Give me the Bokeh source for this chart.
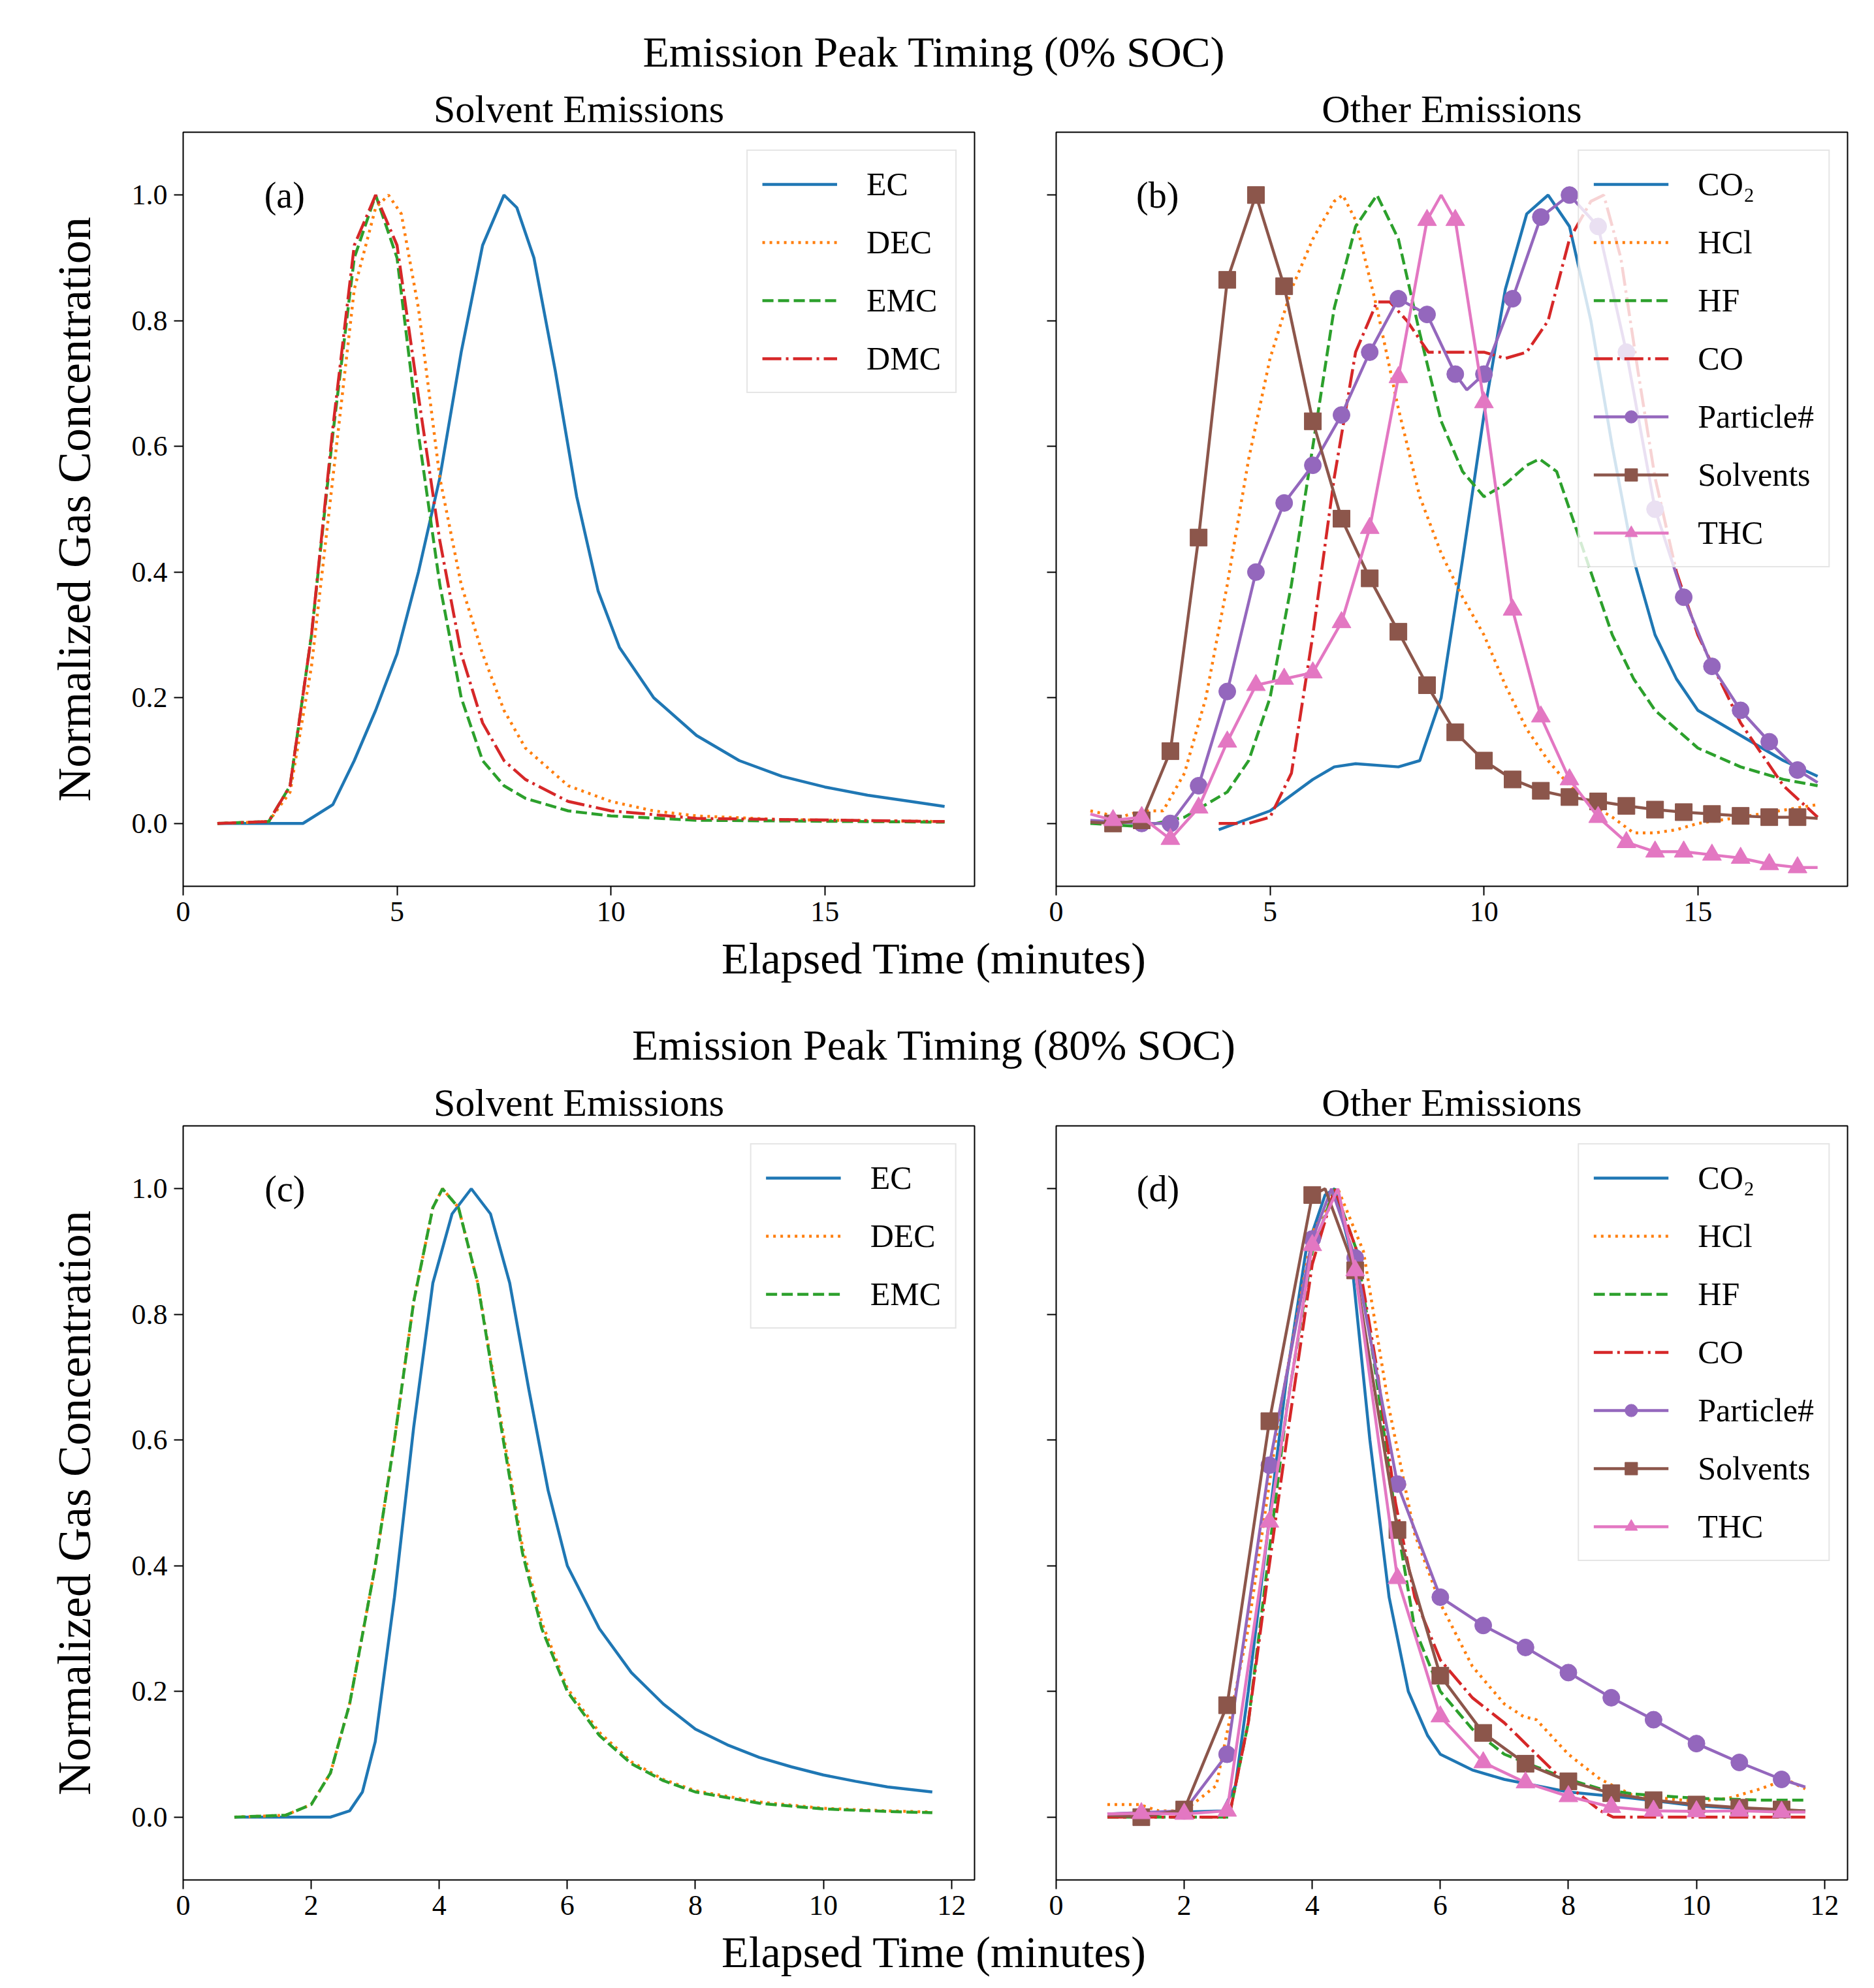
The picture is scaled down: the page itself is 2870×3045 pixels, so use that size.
import numpy as np
from bokeh.plotting import figure
from bokeh.models import Div, Legend, LegendItem, FixedTicker, Label, CustomJSTickFormatter
from bokeh.layouts import column, row
from bokeh.embed import file_html
from bokeh.resources import INLINE

FONT = "Liberation Serif"
C = dict(blue="#1f77b4", orange="#ff7f0e", green="#2ca02c", red="#d62728",
         purple="#9467bd", brown="#8c564b", pink="#e377c2")

# marker times (every 2/3 minute)
t_mk = [1.33, 2.0, 2.67, 3.33, 4.0, 4.67, 5.33, 6.0, 6.67, 7.33, 8.0, 8.67, 9.33, 10.0,
        10.67, 11.33, 12.0, 12.67, 13.33, 14.0, 14.67, 15.33, 16.0, 16.67, 17.33]

# ---------- Panel (a) 0% SOC solvents ----------
a_ec_x = [0.8, 2.8, 3.5, 4, 4.5, 5, 5.5, 6, 6.5, 7, 7.5, 7.8, 8.2, 8.7, 9.2, 9.7, 10.2, 11, 12, 13, 14, 15, 16, 17, 17.8]
a_ec_y = [0, 0, 0.03, 0.1, 0.18, 0.27, 0.4, 0.55, 0.75, 0.92, 1.0, 0.98, 0.9, 0.72, 0.52, 0.37, 0.28, 0.2, 0.14, 0.1, 0.075, 0.058, 0.045, 0.035, 0.027]
a_dec_x = [0.8, 2, 2.5, 3, 3.5, 4, 4.5, 4.8, 5.1, 5.5, 6, 6.5, 7, 7.5, 8, 9, 10, 11, 12, 14, 17.8]
a_dec_y = [0, 0.003, 0.05, 0.25, 0.55, 0.85, 0.98, 1.0, 0.97, 0.82, 0.55, 0.38, 0.27, 0.18, 0.12, 0.06, 0.035, 0.02, 0.012, 0.006, 0.003]
a_emc_x = [0.8, 2, 2.5, 3, 3.5, 4, 4.5, 5, 5.5, 6, 6.5, 7, 7.5, 8, 9, 10, 12, 17.8]
a_emc_y = [0, 0.003, 0.06, 0.3, 0.62, 0.9, 1.0, 0.9, 0.62, 0.38, 0.2, 0.1, 0.06, 0.04, 0.02, 0.012, 0.005, 0.002]
a_dmc_x = [0.8, 2, 2.5, 3, 3.5, 4, 4.5, 5, 5.5, 6, 6.5, 7, 7.5, 8, 9, 10, 12, 17.8]
a_dmc_y = [0, 0.003, 0.06, 0.3, 0.63, 0.92, 1.0, 0.92, 0.68, 0.45, 0.27, 0.16, 0.1, 0.07, 0.035, 0.02, 0.008, 0.003]

# ---------- Panel (b) 0% SOC other ----------
b_co2_x = [3.8, 5, 6, 6.5, 7, 8, 8.5, 9, 9.5, 10, 10.5, 11, 11.5, 12, 12.5, 13, 13.5, 14, 14.5, 15, 16, 17, 17.8]
b_co2_y = [-0.01, 0.02, 0.07, 0.09, 0.095, 0.09, 0.1, 0.2, 0.42, 0.65, 0.85, 0.97, 1.0, 0.95, 0.8, 0.6, 0.42, 0.3, 0.23, 0.18, 0.14, 0.1, 0.075]
b_hcl_x = [0.8, 1.5, 2, 2.5, 3, 3.5, 4, 4.5, 5, 5.5, 6, 6.5, 6.7, 7, 7.5, 8, 8.5, 9, 9.5, 10, 10.5, 11, 11.5, 12, 12.5, 13, 13.5, 14, 14.5, 15, 16, 17.8]
b_hcl_y = [0.02, 0.01, 0.02, 0.02, 0.08, 0.2, 0.38, 0.58, 0.74, 0.85, 0.93, 0.99, 1.0, 0.96, 0.82, 0.66, 0.52, 0.43, 0.36, 0.3, 0.22, 0.15, 0.1, 0.06, 0.03, 0.01, -0.015, -0.015, -0.01, 0.0, 0.01, 0.03]
b_hf_x = [0.8, 2, 3, 4, 4.5, 5, 5.5, 6, 6.5, 7, 7.5, 8, 8.5, 9, 9.5, 10, 10.5, 11, 11.3, 11.7, 12, 12.5, 13, 13.5, 14, 15, 16, 17, 17.8]
b_hf_y = [0, -0.005, 0.01, 0.05, 0.1, 0.2, 0.38, 0.6, 0.82, 0.95, 1.0, 0.93, 0.78, 0.64, 0.56, 0.52, 0.54, 0.57, 0.58, 0.56, 0.5, 0.4, 0.3, 0.23, 0.18, 0.12, 0.09, 0.07, 0.06]
b_co_x = [3.8, 4.5, 5, 5.5, 6, 6.5, 7, 7.5, 7.8, 8.2, 8.7, 9.5, 10, 10.5, 11, 11.5, 12, 12.5, 12.8, 13.2, 13.6, 14, 14.5, 15, 16, 17, 17.8]
b_co_y = [0.0, 0.0, 0.01, 0.08, 0.3, 0.55, 0.75, 0.83, 0.83, 0.8, 0.75, 0.75, 0.75, 0.74, 0.75, 0.8, 0.93, 0.99, 1.0, 0.9, 0.72, 0.55, 0.4, 0.3, 0.16, 0.06, 0.01]
b_pn_x = [0.8, 2.0, 2.67, 3.33, 4.0, 4.67, 5.33, 6.0, 6.67, 7.33, 8.0, 8.67, 9.33, 9.6, 10.0, 10.67, 11.33, 12.0, 12.67, 13.33, 14.0, 14.67, 15.33, 16.0, 16.67, 17.33, 17.8]
b_pn_y = [0.005, 0.0, 0.0, 0.06, 0.21, 0.4, 0.51, 0.57, 0.65, 0.75, 0.835, 0.81, 0.715, 0.69, 0.715, 0.835, 0.965, 1.0, 0.95, 0.75, 0.5, 0.36, 0.25, 0.18, 0.13, 0.085, 0.065]
b_sv_x = [0.8, 1.33, 2.0, 2.67, 3.33, 4.0, 4.67, 5.33, 6.0, 6.67, 7.33, 8.0, 8.67, 9.33, 10.0, 10.67, 11.33, 12.0, 12.67, 13.33, 14.0, 14.67, 15.33, 16.0, 16.67, 17.33, 17.8]
b_sv_y = [0.002, 0.0, 0.005, 0.115, 0.455, 0.865, 1.0, 0.855, 0.64, 0.485, 0.39, 0.305, 0.22, 0.145, 0.1, 0.07, 0.052, 0.042, 0.035, 0.028, 0.022, 0.018, 0.015, 0.012, 0.01, 0.01, 0.008]
b_thc_x = [0.8, 1.33, 2.0, 2.67, 3.33, 4.0, 4.67, 5.33, 6.0, 6.67, 7.33, 8.0, 8.67, 9.0, 9.33, 10.0, 10.67, 11.33, 12.0, 12.67, 13.33, 14.0, 14.67, 15.33, 16.0, 16.67, 17.33, 17.8]
b_thc_y = [0.015, 0.005, 0.01, -0.025, 0.025, 0.13, 0.22, 0.23, 0.24, 0.32, 0.47, 0.71, 0.96, 1.0, 0.96, 0.67, 0.34, 0.17, 0.07, 0.01, -0.03, -0.045, -0.045, -0.05, -0.055, -0.065, -0.07, -0.07]

# ---------- Panel (c) 80% SOC solvents ----------
c_ec_x = [0.8, 2.3, 2.6, 2.8, 3, 3.3, 3.6, 3.9, 4.2, 4.5, 4.8, 5.1, 5.4, 5.7, 6, 6.5, 7, 7.5, 8, 8.5, 9, 9.5, 10, 10.5, 11, 11.7]
c_ec_y = [0, 0, 0.01, 0.04, 0.12, 0.35, 0.62, 0.85, 0.96, 1.0, 0.96, 0.85, 0.68, 0.52, 0.4, 0.3, 0.23, 0.18, 0.14, 0.115, 0.095, 0.08, 0.067, 0.057, 0.048, 0.04]
c_dec_x = [0.8, 1.6, 2, 2.3, 2.6, 3, 3.3, 3.6, 3.9, 4.05, 4.3, 4.6, 5, 5.3, 5.6, 6, 6.5, 7, 7.5, 8, 9, 10, 11, 11.7]
c_dec_y = [0, 0.003, 0.02, 0.07, 0.18, 0.4, 0.6, 0.82, 0.97, 1.0, 0.97, 0.85, 0.61, 0.43, 0.31, 0.205, 0.135, 0.088, 0.06, 0.042, 0.024, 0.014, 0.01, 0.008]
c_emc_x = [0.8, 1.6, 2, 2.3, 2.6, 3, 3.3, 3.6, 3.9, 4.05, 4.3, 4.6, 5, 5.3, 5.6, 6, 6.5, 7, 7.5, 8, 9, 10, 11, 11.7]
c_emc_y = [0, 0.003, 0.02, 0.07, 0.18, 0.4, 0.6, 0.82, 0.97, 1.0, 0.97, 0.85, 0.6, 0.42, 0.3, 0.2, 0.13, 0.085, 0.058, 0.04, 0.022, 0.013, 0.009, 0.007]

# ---------- Panel (d) 80% SOC other ----------
d_co2_x = [0.8, 2, 2.6, 2.8, 3, 3.3, 3.6, 3.9, 4.2, 4.35, 4.6, 4.9, 5.2, 5.5, 5.8, 6, 6.5, 7, 8, 9, 10, 11, 11.7]
d_co2_y = [0.005, 0.008, 0.01, 0.05, 0.2, 0.45, 0.7, 0.9, 0.99, 1.0, 0.9, 0.6, 0.35, 0.2, 0.13, 0.1, 0.075, 0.06, 0.04, 0.03, 0.018, 0.012, 0.01]
d_hcl_x = [0.8, 1.3, 1.6, 2, 2.5, 3, 3.5, 4, 4.4, 4.8, 5.2, 5.6, 6, 6.5, 7, 7.3, 7.5, 8, 8.5, 9, 9.5, 10, 10.5, 11, 11.4, 11.7]
d_hcl_y = [0.02, 0.02, 0.01, 0.01, 0.05, 0.3, 0.65, 0.93, 1.0, 0.9, 0.65, 0.45, 0.34, 0.24, 0.18, 0.16, 0.155, 0.1, 0.06, 0.035, 0.03, 0.025, 0.03, 0.045, 0.06, 0.045]
d_hf_x = [0.8, 2.7, 3, 3.3, 3.6, 4, 4.35, 4.7, 5, 5.3, 5.6, 6, 6.5, 7, 7.5, 8, 8.5, 9, 10, 11, 11.7]
d_hf_y = [0.0, 0.0, 0.15, 0.4, 0.65, 0.9, 1.0, 0.9, 0.7, 0.48, 0.3, 0.2, 0.14, 0.1, 0.08, 0.06, 0.045, 0.037, 0.03, 0.027, 0.027]
d_co_x = [0.8, 2.7, 3, 3.3, 3.6, 4, 4.35, 4.7, 5, 5.3, 5.6, 6, 6.5, 7, 7.5, 8, 8.5, 8.7, 11.7]
d_co_y = [0.0, 0.0, 0.15, 0.38, 0.6, 0.88, 1.0, 0.9, 0.72, 0.5, 0.35, 0.25, 0.19, 0.15, 0.1, 0.05, 0.01, 0.0, 0.0]
d_pn_x = [0.8, 2.0, 2.67, 3.33, 4.0, 4.3, 4.67, 5.33, 6.0, 6.67, 7.33, 8.0, 8.67, 9.33, 10.0, 10.67, 11.33, 11.7]
d_pn_y = [0.005, 0.01, 0.1, 0.56, 0.92, 1.0, 0.89, 0.53, 0.35, 0.305, 0.27, 0.23, 0.19, 0.155, 0.117, 0.087, 0.06, 0.048]
d_sv_x = [0.8, 1.33, 2.0, 2.67, 3.33, 4.0, 4.2, 4.67, 5.33, 6.0, 6.67, 7.33, 8.0, 8.67, 9.33, 10.0, 10.67, 11.33, 11.7]
d_sv_y = [0.003, 0.0, 0.012, 0.178, 0.63, 0.99, 1.0, 0.87, 0.457, 0.225, 0.134, 0.085, 0.057, 0.038, 0.027, 0.02, 0.015, 0.012, 0.01]
d_thc_x = [0.8, 1.33, 2.0, 2.67, 3.33, 4.0, 4.4, 4.67, 5.33, 6.0, 6.67, 7.33, 8.0, 8.67, 9.33, 10.0, 10.67, 11.33, 11.7]
d_thc_y = [0.005, 0.006, 0.005, 0.01, 0.47, 0.91, 1.0, 0.87, 0.38, 0.16, 0.087, 0.055, 0.033, 0.016, 0.01, 0.009, 0.01, 0.008, 0.008]

LW = 4.5
DASH = {"solid": "solid", "dot": "4 7", "dash": "17 7", "dashdot": "29 7 4 7"}
YTICKS = [0, 0.2, 0.4, 0.6, 0.8, 1.0]


def mk_fig(title, xmax, xticks, top, show_ylab, panel_lab, lab_x, left, right):
    p = figure(width=left + 1212 + right, height=top + 1155 + 70, x_range=(0, xmax), y_range=(-0.1, 1.1),
               output_backend="svg", toolbar_location=None, title=title,
               min_border_left=left, min_border_right=right, min_border_top=top, min_border_bottom=70)
    p.title.align = "center"
    p.title.text_font = FONT
    p.title.text_font_size = "60px"
    p.title.text_font_style = "normal"
    p.title.text_color = "black"
    p.title.standoff = 6
    p.grid.visible = False
    p.outline_line_color = "black"
    p.outline_line_width = 2
    p.xaxis.ticker = FixedTicker(ticks=xticks)
    p.yaxis.ticker = FixedTicker(ticks=YTICKS)
    for ax in (p.xaxis[0], p.yaxis[0]):
        ax.axis_line_color = None
        ax.major_tick_line_width = 2
        ax.major_tick_out = 14
        ax.major_tick_in = 0
        ax.minor_tick_line_color = None
        ax.major_label_text_font = FONT
        ax.major_label_text_font_size = "44px"
        ax.major_label_text_color = "black"
        ax.major_label_standoff = 10
    if show_ylab:
        p.yaxis.formatter = CustomJSTickFormatter(code="return tick.toFixed(1);")
        p.yaxis.axis_label = "Normalized Gas Concentration"
        p.yaxis.axis_label_text_font = FONT
        p.yaxis.axis_label_text_font_size = "72px"
        p.yaxis.axis_label_text_font_style = "normal"
        p.yaxis.axis_label_text_color = "black"
        p.yaxis.axis_label_standoff = 45
    else:
        p.yaxis.formatter = CustomJSTickFormatter(code="return ' ';")
    p.add_layout(Label(x=lab_x, y=1.0, text=panel_lab, text_font=FONT, text_font_size="56px",
                       text_color="black", text_align="center", text_baseline="middle"))
    return p


def add_series(p, items, x, y, color, dash, name, marker=None):
    r = p.line(x, y, line_color=color, line_width=LW, line_dash=DASH[dash])
    rs = [r]
    if marker:
        xs = np.array(x); ys = np.array(y)
        m = np.isin(np.round(xs, 2), np.round(t_mk, 2))
        rm = p.scatter(xs[m], ys[m], marker=marker, size=26 if marker != "triangle" else 29,
                       fill_color=color, line_color=color)
        rs.append(rm)
    items.append(LegendItem(label=name, renderers=rs))


def finish_legend(p, items):
    lg = Legend(items=items, location="top_right", label_text_font=FONT, label_text_font_size="50px",
                label_text_color="black",
                glyph_width=115, glyph_height=48, label_height=48, spacing=31, label_standoff=45,
                padding=22, margin=27, border_line_color="#cccccc", border_line_width=2,
                background_fill_alpha=0.8)
    p.add_layout(lg, "center")


# (a)
pa = mk_fig("Solvent Emissions", 18.5, [0, 5, 10, 15], 82, True, "(a)", 2.37, 280, 60)
it = []
add_series(pa, it, a_ec_x, a_ec_y, C["blue"], "solid", "EC")
add_series(pa, it, a_dec_x, a_dec_y, C["orange"], "dot", "DEC")
add_series(pa, it, a_emc_x, a_emc_y, C["green"], "dash", "EMC")
add_series(pa, it, a_dmc_x, a_dmc_y, C["red"], "dashdot", "DMC")
finish_legend(pa, it)

# (b)
pb = mk_fig("Other Emissions", 18.5, [0, 5, 10, 15], 82, False, "(b)", 2.37, 65, 27)
it = []
add_series(pb, it, b_co2_x, b_co2_y, C["blue"], "solid", "CO₂")
add_series(pb, it, b_hcl_x, b_hcl_y, C["orange"], "dot", "HCl")
add_series(pb, it, b_hf_x, b_hf_y, C["green"], "dash", "HF")
add_series(pb, it, b_co_x, b_co_y, C["red"], "dashdot", "CO")
add_series(pb, it, b_pn_x, b_pn_y, C["purple"], "solid", "Particle#", "circle")
add_series(pb, it, b_sv_x, b_sv_y, C["brown"], "solid", "Solvents", "square")
add_series(pb, it, b_thc_x, b_thc_y, C["pink"], "solid", "THC", "triangle")
finish_legend(pb, it)

# (c)
pc = mk_fig("Solvent Emissions", 12.36, list(range(0, 13, 2)), 85, True, "(c)", 1.59, 280, 60)
it = []
add_series(pc, it, c_ec_x, c_ec_y, C["blue"], "solid", "EC")
add_series(pc, it, c_dec_x, c_dec_y, C["orange"], "dot", "DEC")
add_series(pc, it, c_emc_x, c_emc_y, C["green"], "dash", "EMC")
finish_legend(pc, it)

# (d)
pd_ = mk_fig("Other Emissions", 12.36, list(range(0, 13, 2)), 85, False, "(d)", 1.59, 65, 27)
it = []
add_series(pd_, it, d_co2_x, d_co2_y, C["blue"], "solid", "CO₂")
add_series(pd_, it, d_hcl_x, d_hcl_y, C["orange"], "dot", "HCl")
add_series(pd_, it, d_hf_x, d_hf_y, C["green"], "dash", "HF")
add_series(pd_, it, d_co_x, d_co_y, C["red"], "dashdot", "CO")
add_series(pd_, it, d_pn_x, d_pn_y, C["purple"], "solid", "Particle#", "circle")
add_series(pd_, it, d_sv_x, d_sv_y, C["brown"], "solid", "Solvents", "square")
add_series(pd_, it, d_thc_x, d_thc_y, C["pink"], "solid", "THC", "triangle")
finish_legend(pd_, it)


def tdiv(text, h, size, pad_top):
    return Div(text=f"<div style='width:2716px;padding-left:134px;text-align:center;font-family:\"{FONT}\";"
                    f"font-size:{size}px;line-height:{size}px;padding-top:{pad_top}px;color:black'>{text}</div>",
               width=2850, height=h)


layout = column(
    tdiv("Emission Peak Timing (0% SOC)", 110, 66, 42),
    row(pa, pb),
    tdiv("Elapsed Time (minutes)", 92, 68, 2),
    tdiv("Emission Peak Timing (80% SOC)", 100, 66, 34),
    row(pc, pd_),
    tdiv("Elapsed Time (minutes)", 92, 68, 2),
    spacing=0,
)

open("out.html", "w").write(file_html(layout, INLINE))
